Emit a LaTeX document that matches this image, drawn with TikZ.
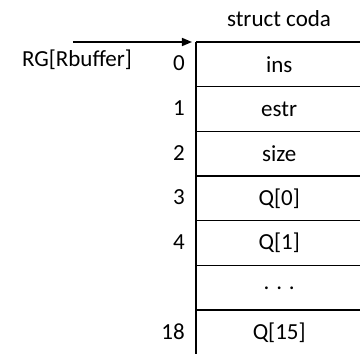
\documentclass[tikz,border=0pt]{standalone}
\usepackage{fontspec}
\setmainfont{Carlito}
\usetikzlibrary{arrows.meta}
\begin{document}
\begin{tikzpicture}[x=1pt,y=-1pt,
  txt/.style={font=\fontsize{23}{27}\selectfont, inner sep=0pt},
  cell/.style={txt, minimum width=166pt, minimum height=44.67pt, anchor=north west},
  idx/.style={txt, anchor=east},
  rule/.style={line width=1.6pt},
  ptr/.style={line width=1.6pt, -{Triangle[length=10pt,width=8pt]}}]
\useasboundingbox (0,0) rectangle (360,354);
\clip (0,0) rectangle (360,354);
\foreach \t [count=\i from 0] in {ins,estr,size,Q[0],Q[1],{. . .},Q[15]} {
  \node[cell] (c\i) at (196,{42+44.67*\i}) {\t};
  \draw[rule] (c\i.north west) -- (c\i.north east);
}
\draw[rule] (c0.north west) -- (196,354);
\foreach \n/\i in {0/0,1/1,2/2,3/3,4/4,18/6} {
  \node[idx] (n\i) at ([xshift=-11pt,yshift=1pt]c\i.west) {\n};
}
\node[txt] (title) at (279,19) {struct coda};
\node[txt] (rg) at (77,60) {RG[Rbuffer]};
\coordinate (start) at (73,42);
\draw[ptr] (start) -- ([xshift=-4pt]c0.north west);
\end{tikzpicture}
\end{document}
